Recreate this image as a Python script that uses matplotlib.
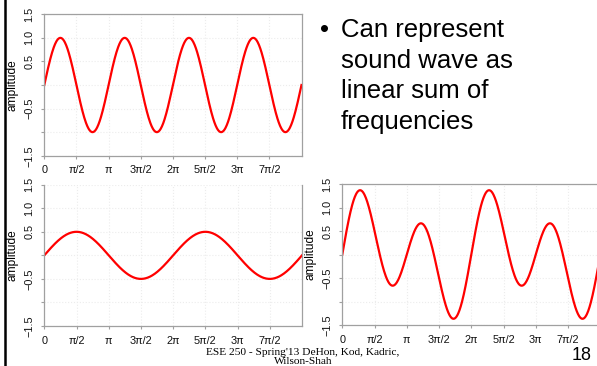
import numpy as np
import matplotlib
matplotlib.use("Agg")
import matplotlib.pyplot as plt
from matplotlib.lines import Line2D

# ---- data ----
x_max = 4 * np.pi
n_samples = 600
wave_a_freq, wave_a_amp = 2.0, 1.0      # top-left: sin(2t)
wave_b_freq, wave_b_amp = 1.0, 0.5      # bottom-left: 0.5 sin(t)
xtick_vals = [0, np.pi/2, np.pi, 3*np.pi/2, 2*np.pi, 5*np.pi/2, 3*np.pi, 7*np.pi/2]
xtick_labels = ["0", "π/2", "π", "3π/2", "2π", "5π/2", "3π", "7π/2"]
ytick_vals = [-1.5, -1.0, -0.5, 0.0, 0.5, 1.0, 1.5]
ytick_labels = ["−1.5", "", "−0.5", "", "0.5", "1.0", "1.5"]
bullet_lines = ["Can represent", "sound wave as", "linear sum of", "frequencies"]
footer_lines = ["ESE 250 - Spring'13 DeHon, Kod, Kadric,", "Wilson-Shah"]
page_number = "18"

t = np.linspace(0, x_max, n_samples)
wave_a = wave_a_amp * np.sin(wave_a_freq * t)
wave_b = wave_b_amp * np.sin(wave_b_freq * t)
wave_sum = wave_a + wave_b

W, H = 597, 366
fig = plt.figure(figsize=(W/100, H/100), dpi=100)
fig.patch.set_facecolor("white")

def px_axes(x0, x1, y0, y1):
    return fig.add_axes([x0/W, 1 - y1/H, (x1 - x0)/W, (y1 - y0)/H])

SPINE = "#a0a0a0"

def style(ax, top=True):
    ax.set_xlim(0, x_max)
    ax.set_ylim(-1.5, 1.5)
    ax.set_xticks(xtick_vals)
    ax.set_xticklabels(xtick_labels, family="Liberation Sans", fontsize=7.8)
    ax.set_yticks(ytick_vals)
    ax.set_yticklabels(ytick_labels, family="Liberation Sans", fontsize=7.8,
                       rotation=90, va="center")
    ax.tick_params(axis="both", length=2.5, width=0.8, color=SPINE,
                   direction="out", labelcolor="#111111")
    ax.tick_params(axis="x", pad=4.5)
    ax.tick_params(axis="y", pad=4.5)
    for s in ax.spines.values():
        s.set_color(SPINE)
        s.set_linewidth(0.9)
    ax.spines["top"].set_visible(top)
    ax.grid(True, color="#ececec", linestyle=":", linewidth=0.8)
    ax.set_axisbelow(True)
    ax.set_ylabel("amplitude", family="Liberation Sans", fontsize=8.6)
    ax.yaxis.label.set_va("center")
    ax.yaxis.set_label_coords(-0.123, 0.5)

ax1 = px_axes(44.3, 301.5, 14.3, 155.7)
style(ax1)
ax1.plot(t, wave_a, color="#ff0000", linewidth=1.6)

ax2 = px_axes(44.3, 302.0, 184.7, 326.0)
style(ax2, top=False)
ax2.plot(t, wave_b, color="#ff0000", linewidth=1.6)

ax3 = px_axes(342.3, 600.3, 184.0, 325.0)
style(ax3)
ax3.plot(t, wave_sum, color="#ff0000", linewidth=1.6)

# bullet text
fig.text(320/W, 1 - 37/H, "•", family="Liberation Sans", fontsize=18.5,
         va="baseline", ha="left")
for i, line in enumerate(bullet_lines):
    fig.text(340.7/W, 1 - (37.0 + 30.5*i)/H, line, family="Liberation Sans",
             fontsize=18.5, va="baseline", ha="left")

# footer (two centred lines in one text)
fig.text(303/W, 0.3/H, "\n".join(footer_lines), family="Liberation Serif",
         fontsize=8.2, ha="center", va="bottom", multialignment="center",
         linespacing=0.95)
fig.text(582/W, 1 - 356/H, page_number, family="Liberation Sans",
         fontsize=13, ha="center", va="center")

# slide left border
fig.add_artist(Line2D([5.2/W, 5.2/W], [0, 1], color="black", linewidth=1.8,
                      transform=fig.transFigure))

fig.savefig("out.png", dpi=100)
